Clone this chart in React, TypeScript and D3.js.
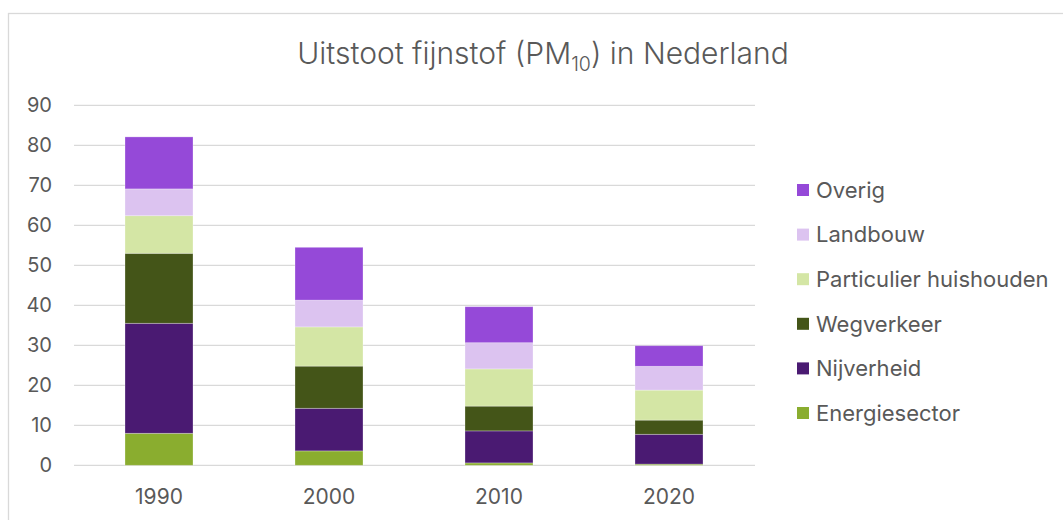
import React from "react";
import * as d3 from "d3";

const years = ["1990", "2000", "2010", "2020"];
const seriesNames = ["Energiesector", "Nijverheid", "Wegverkeer", "Particulier huishouden", "Landbouw", "Overig"];
const energiesector = [8.0, 3.6, 0.6, 0.3];
const nijverheid = [27.5, 10.65, 8.0, 7.45];
const wegverkeer = [17.5, 10.55, 6.2, 3.55];
const particulier = [9.4, 9.8, 9.3, 7.5];
const landbouw = [6.7, 6.7, 6.55, 5.95];
const overig = [13.0, 13.2, 9.0, 5.15];
const colors = ["#8aad2f", "#4a1a72", "#445518", "#d4e6a5", "#dcc3f0", "#9549d8"];
const yTicks = [0, 10, 20, 30, 40, 50, 60, 70, 80, 90];

const FONT = "Inter, 'Open Sans', 'Noto Sans', sans-serif";

export default function App() {
  const W = 1063, H = 520;
  const values = [energiesector, nijverheid, wegverkeer, particulier, landbouw, overig];
  const rows = years.map((y, i) => {
    const r: any = { year: y };
    seriesNames.forEach((s, k) => (r[s] = values[k][i]));
    return r;
  });
  const stack = d3.stack<any>().keys(seriesNames)(rows);
  const x = d3.scaleBand().domain(years).range([74, 754]).paddingInner(0.6).paddingOuter(0.3);
  const y = d3.scaleLinear().domain([0, 90]).range([465.3, 105.3]);

  const legendOrder = [...seriesNames].reverse();
  return (
    <svg width={W} height={H} style={{ position: "absolute", left: 0, top: 0, background: "#fff" }} fontFamily={FONT}>
      <rect x={8.5} y={13.5} width={W + 10} height={H + 10} fill="#fff" stroke="#d9d9d9" strokeWidth={1.3} />
      <text x={543} y={64} textAnchor="middle" fontSize={30} fill="#595959" fontWeight={300}>
        Uitstoot fijnstof (PM<tspan fontSize={19.5} dy={7}>10</tspan><tspan dy={-7}>) in Nederland</tspan>
      </text>
      {yTicks.map((t) => (
        <g key={t}>
          <line x1={74} x2={755} y1={y(t)} y2={y(t)} stroke="#d9d9d9" strokeWidth={1.3} />
          <text x={52} y={y(t) + 7} textAnchor="end" fontSize={20} fill="#595959">{t}</text>
        </g>
      ))}
      {stack.map((layer, k) => (
        <g key={layer.key} fill={colors[k]}>
          {layer.map((d, i) => (
            <rect key={i} x={x(years[i])} width={x.bandwidth()} y={y(d[1])} height={Math.max(0, y(d[0]) - y(d[1]))}
              stroke="#ffffff" strokeOpacity={0.35} strokeWidth={0.8} />
          ))}
        </g>
      ))}
      {years.map((yr) => (
        <text key={yr} x={(x(yr) as number) + x.bandwidth() / 2} y={504} textAnchor="middle" fontSize={21} fill="#595959">{yr}</text>
      ))}
      {legendOrder.map((s, i) => {
        const k = seriesNames.indexOf(s);
        const cy = 190 + i * 44.6;
        return (
          <g key={s}>
            <rect x={797} y={cy - 6} width={12} height={12} fill={colors[k]} />
            <text x={816} y={cy + 7.8} fontSize={22} fill="#595959">{s}</text>
          </g>
        );
      })}
    </svg>
  );
}
